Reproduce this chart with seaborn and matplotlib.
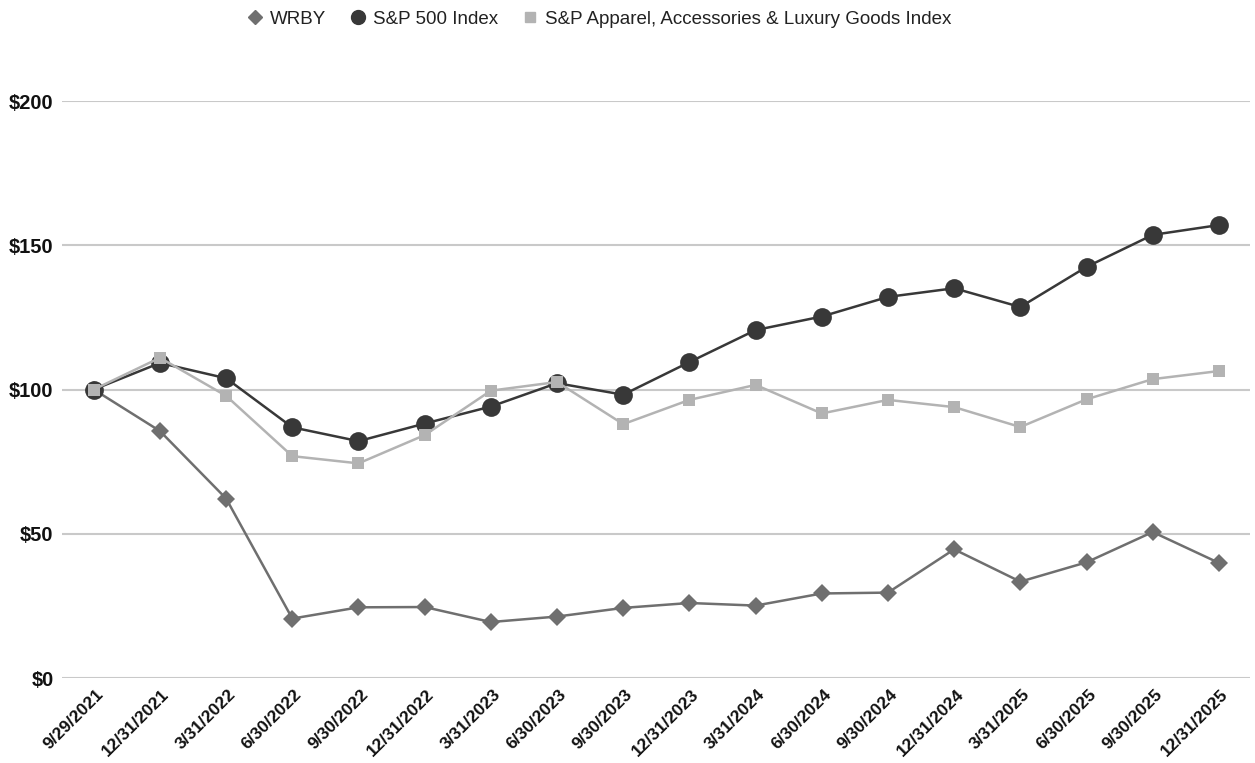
import numpy as np
import pandas as pd
import matplotlib
matplotlib.use("Agg")
import matplotlib.pyplot as plt
import matplotlib.transforms as mtransforms
from matplotlib.lines import Line2D
import seaborn as sns

# ------------------- Data -------------------
dates = ["9/29/2021", "12/31/2021", "3/31/2022", "6/30/2022", "9/30/2022", "12/31/2022",
         "3/31/2023", "6/30/2023", "9/30/2023", "12/31/2023", "3/31/2024", "6/30/2024",
         "9/30/2024", "12/31/2024", "3/31/2025", "6/30/2025", "9/30/2025", "12/31/2025"]
wrby = [100, 85.6, 62.2, 20.6, 24.5, 24.6, 19.4, 21.3, 24.3, 26.0, 25.1, 29.3,
        29.6, 44.6, 33.4, 40.1, 50.6, 39.9]
sp500 = [100, 109.2, 103.9, 86.9, 82.1, 88.2, 94.1, 102.2, 98.2, 109.5, 120.6, 125.3,
         132.1, 135.1, 128.6, 142.5, 153.6, 157.0]
apparel = [100, 111.0, 97.8, 76.9, 74.4, 84.2, 99.6, 102.6, 88.0, 96.4, 101.6, 91.7,
           96.4, 93.9, 87.0, 96.6, 103.6, 106.4]

series_names = ["WRBY", "S&P 500 Index", "S&P Apparel, Accessories & Luxury Goods Index"]
series_values = [wrby, sp500, apparel]
colors = ["#6f6f6f", "#383838", "#b3b3b3"]
markers = ["D", "o", "s"]
marker_sizes = [9.5, 13.5, 9]

# ------------------- Plot -------------------
sns.set_style("white")
plt.rcParams['font.family'] = ['Liberation Sans', 'DejaVu Sans']

fig = plt.figure(figsize=(12.55, 7.63), dpi=100)
ax = fig.add_axes([0.0494, 0.1114, 0.9466, 0.7562])

pos = np.arange(len(dates))
for name, vals, col, mk, ms in zip(series_names, series_values, colors, markers, marker_sizes):
    df = pd.DataFrame({"pos": pos, "value": vals})
    sns.lineplot(data=df, x="pos", y="value", ax=ax, color=col, linewidth=1.8,
                 marker=mk, markersize=ms, markeredgewidth=0, label=None, legend=False)

ax.set_xlim(-0.48, 17.47)
ax.set_ylim(0, 200)
ax.set_yticks([0, 50, 100, 150, 200])
ax.set_yticklabels(["$0", "$50", "$100", "$150", "$200"], fontsize=14.5, fontweight="bold")
ax.set_xticks(pos)
ax.set_xticklabels(dates, fontsize=12.5, fontweight="bold", rotation=45,
                   ha="right", va="center", rotation_mode="anchor")

ax.set_xlabel("")
ax.set_ylabel("")
ax.tick_params(axis="both", length=0, pad=8, colors="#111111")
ax.tick_params(axis="y", pad=6)
ax.grid(axis="y", color="#c9c9c9", linewidth=1.5)
ax.grid(axis="x", visible=False)
ax.set_axisbelow(True)
sns.despine(ax=ax, left=True, bottom=True)

# shift the rotated date labels (after tick_params, which resets transforms)
offset = mtransforms.ScaledTranslation(0.07, -0.03, fig.dpi_scale_trans)
for lbl in ax.get_xticklabels():
    lbl.set_transform(lbl.get_transform() + offset)

handles = [Line2D([], [], linestyle="none", marker=mk, color=col, markersize=s)
           for mk, col, s in zip(markers, colors, [7, 10, 7])]
fig.legend(handles, series_names, loc="center", bbox_to_anchor=(0.477, 0.975), ncol=3,
           frameon=False, fontsize=13.5, handletextpad=0.3, columnspacing=1.2,
           handlelength=1.0, labelcolor="#222222")

fig.savefig("out.png", dpi=100)
